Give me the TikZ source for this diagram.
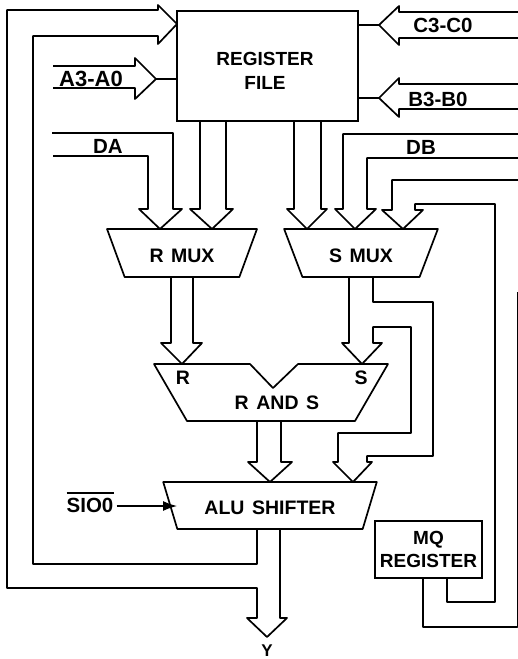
\documentclass[tikz,border=0pt]{standalone}
\usepackage{fontspec}
\setmainfont{Liberation Sans}
\newfontfamily\muxfont[WordSpace=1.4]{Liberation Sans}
\usetikzlibrary{arrows.meta,shapes.geometric}

\begin{document}
\begin{tikzpicture}[x=1pt,y=-1pt,
    wire/.style={black, line width=1.7pt, line join=round},
    lbl/.style={black, inner sep=0pt, align=center, font=\muxfont\bfseries\fontsize{19.5}{23.5}\selectfont},
    buslbl/.style={lbl, font=\bfseries\fontsize{20.5}{24}\selectfont},
    reglbl/.style={lbl, font=\bfseries\fontsize{19}{23.5}\selectfont},
    regbox/.style={reglbl, draw, line width=1.7pt, rectangle, outer sep=0pt},
    muxbox/.style={lbl, draw, line width=1.7pt, line join=round, trapezium, shape border rotate=180, trapezium left angle=61, trapezium right angle=61, trapezium stretches=true, outer sep=0pt, text height=18pt, text depth=0pt}]
    \useasboundingbox (0,0) rectangle (518,659);
    \node[regbox, minimum width=181pt, minimum height=110pt] (regfile) at (267.5,66) {};
    \node[reglbl] (regfilelbl) at (265,71) {REGISTER\\FILE};
    \node[muxbox, minimum width=151pt, minimum height=48pt] (rmux) at (182,253) {R MUX};
    \node[muxbox, minimum width=154pt, minimum height=48pt] (smux) at (361,253) {S MUX};
    \node[muxbox, minimum width=214pt, minimum height=47pt] (alu) at (270,505.5) {ALU SHIFTER};
    \node[regbox, minimum width=107pt, minimum height=57pt] (mq) at (428.5,549.5) {MQ\\REGISTER};

    \draw[wire] (154,364) coordinate (andtl) -- (250,364) -- (273,388) -- (298,364) -- (388,364) -- (355,421) -- (187,421) -- cycle;
    \node[lbl] (andlbl) at (277,403) {R AND S};
    \node[lbl] (andr) at (183,378) {R};
    \node[lbl] (ands) at (361,378) {S};

    \node[buslbl, font=\bfseries\fontsize{22}{24}\selectfont] (a30) at (91,79) {A3-A0};
    \node[buslbl] (c30) at (443,25) {C3-C0};
    \node[buslbl] (b30) at (438,99) {B3-B0};
    \node[buslbl] (da) at (108,146) {DA};
    \node[buslbl] (db) at (421,147) {DB};
    \node[buslbl, anchor=base, inner xsep=3pt] (sio) at (90,512.5) {\rlap{\smash{\rule[19pt]{47pt}{1.5pt}}}SIO0};
    \node[lbl, font=\bfseries\fontsize{17}{20}\selectfont] (y) at (267,651) {Y};

    \coordinate (rftip) at (177,24);
    \coordinate (a30tip) at (156,79);
    \coordinate (c30tip) at (379,25);
    \coordinate (b30tip) at (379,98);
    \coordinate (rmuxa) at (160,229);
    \coordinate (rmuxb) at (212,229);
    \coordinate (smuxa) at (307,229);
    \coordinate (smuxb) at (355,229);
    \coordinate (smuxc) at (403,229);
    \coordinate (andrtip) at (182,364);
    \coordinate (andstip) at (362,364);
    \coordinate (alua) at (270,482);
    \coordinate (alub) at (353,482);
    \coordinate (alusio) at (177,506);
    \coordinate (ytip) at (267,637);

    \draw[wire] (a30tip) -- (regfile.west |- a30tip);
    \draw[wire] (c30tip) -- (regfile.east |- c30tip);
    \draw[wire] (b30tip) -- (regfile.east |- b30tip);
    \draw[wire] (53,66) -- (135,66) -- (135,58) -- (a30tip) -- (135,99) -- (135,88) -- (53,88);
    \draw[wire] (518,12) -- (399,12) -- (399,6) -- (c30tip) -- (399,45) -- (399,38) -- (518,38);
    \draw[wire] (518,84) -- (399,84) -- (399,78) -- (b30tip) -- (399,117) -- (399,109) -- (518,109);

    \draw[wire] (52,133) -- (173,133) -- (173,209) -- (182,209) -- (rmuxa) -- (139,209) -- (148,209) -- (148,156) -- (53,156);
    \draw[wire] (200,121) -- (200,209) -- (190,209) -- (rmuxb) -- (233,209) -- (226,209) -- (226,121);
    \draw[wire] (294,121) -- (294,209) -- (287,209) -- (smuxa) -- (327,209) -- (321,209) -- (321,121);
    \draw[wire] (518,134) -- (343,134) -- (343,209) -- (335,209) -- (smuxb) -- (376,209) -- (367,209) -- (367,158) -- (518,158);
    \draw[wire] (518,180) -- (392,180) -- (392,210) -- (382,210) -- (smuxc) -- (423,210) -- (415,210) -- (415,204) -- (495,204) -- (495,602) -- (447,602) -- (447,578);
    \draw[wire] (517.5,292) -- (517.5,627) -- (423,627) -- (423,578);

    \draw[wire] (171,277) -- (171,343) -- (161,343) -- (andrtip) -- (202,343) -- (193,343) -- (193,277);
    \draw[wire] (349,277) -- (349,343) -- (342,343) -- (andstip) -- (382,343) -- (373,343) -- (373,327) -- (411,327) -- (411,433) -- (338,433) -- (338,462) -- (333,462) -- (alub) -- (372,462) -- (367,462) -- (367,456) -- (433,456) -- (433,302) -- (373,302) -- (373,277);
    \draw[wire] (257,421) -- (257,462) -- (248,462) -- (alua) -- (292,462) -- (281,462) -- (281,421);

    \draw[wire] (280,529) -- (280,618) -- (287,618) -- (ytip) -- (247,618) -- (257,618) -- (257,588) -- (7,588) -- (7,10) -- (158,10) -- (158,5) -- (rftip) -- (158,44) -- (158,36) -- (33,36) -- (33,564) -- (257,564) -- (257,529);

    \draw[black, line width=1.2pt, -{Latex[length=14pt,width=10pt]}] (sio.east |- alusio) -- (alusio);
\end{tikzpicture}
\end{document}
